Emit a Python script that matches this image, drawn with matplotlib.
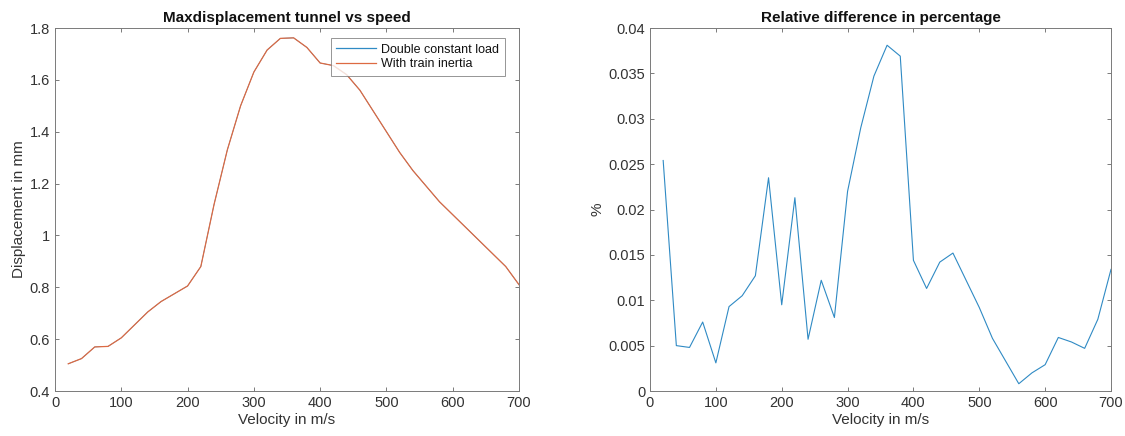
import numpy as np
import matplotlib
matplotlib.use('Agg')
import matplotlib.pyplot as plt

# velocities in m/s
velocity = list(range(20, 701, 20))

# max tunnel displacement in mm (both curves overlap in the picture)
disp_inertia = [0.505, 0.525, 0.570, 0.572, 0.605, 0.655, 0.705, 0.745, 0.775, 0.805,
                0.880, 1.120, 1.330, 1.500, 1.630, 1.715, 1.760, 1.762, 1.725, 1.665,
                1.655, 1.620, 1.560, 1.480, 1.400, 1.320, 1.250, 1.190, 1.130, 1.080,
                1.030, 0.980, 0.930, 0.880, 0.810]
disp_double = [0.505, 0.525, 0.570, 0.572, 0.605, 0.655, 0.705, 0.745, 0.775, 0.805,
               0.880, 1.120, 1.330, 1.500, 1.630, 1.715, 1.760, 1.762, 1.725, 1.665,
               1.655, 1.620, 1.560, 1.480, 1.400, 1.320, 1.250, 1.190, 1.130, 1.080,
               1.030, 0.980, 0.930, 0.880, 0.810]

# relative difference in %
rel_diff = [0.0254, 0.0050, 0.0048, 0.0076, 0.0031, 0.0093, 0.0105, 0.0127, 0.0235, 0.0095,
            0.0213, 0.0057, 0.0122, 0.0081, 0.0220, 0.0290, 0.0347, 0.0381, 0.0369, 0.0144,
            0.0113, 0.0142, 0.0152, 0.0122, 0.0092, 0.0058, 0.0033, 0.0008, 0.0020, 0.0029,
            0.0059, 0.0054, 0.0047, 0.0079, 0.0134]

blue = '#2f8ac4'
orange = '#dd6a42'
spinecol = '#7a7a7a'
textcol = '#333333'

plt.rcParams['font.family'] = ['Liberation Sans', 'DejaVu Sans']
plt.rcParams['font.size'] = 10

fig = plt.figure(figsize=(11.25, 4.36), dpi=100)
W, H = 1125.0, 436.0
ax1 = fig.add_axes([55/W, 1 - 391/H, (519-55)/W, (391-28)/H])
ax2 = fig.add_axes([650/W, 1 - 391/H, (1111-650)/W, (391-28)/H])

def style(ax):
  for s in ax.spines.values():
    s.set_color(spinecol)
    s.set_linewidth(0.7)
  ax.tick_params(direction='in', length=3, width=0.7, color=spinecol,
                 labelcolor=textcol, top=True, right=True, labelsize=10.5)
  ax.set_xlim(0, 700)
  ax.set_xticks(np.arange(0, 701, 100))
  ax.set_xlabel('Velocity in m/s', fontsize=11, color=textcol, labelpad=2)

# blue curve sits under the orange one, keep it thinner so it does not tint it
ax1.plot(velocity, disp_double, color=blue, lw=0.5, label='Double constant load')
ax1.plot(velocity, disp_inertia, color=orange, lw=0.9, label='With train inertia')
style(ax1)
ax1.set_ylim(0.4, 1.8)
ax1.set_yticks(np.arange(0.4, 1.81, 0.2))
ax1.set_yticklabels(['0.4', '0.6', '0.8', '1', '1.2', '1.4', '1.6', '1.8'])
ax1.set_ylabel('Displacement in mm', fontsize=11, color=textcol, labelpad=3)
ax1.set_title('Maxdisplacement tunnel vs speed', fontsize=11, fontweight='bold',
              color='#111111', pad=4)
leg = ax1.legend(loc='upper right', fontsize=9, frameon=True, fancybox=False,
                 bbox_to_anchor=(505/W, 1 - 38/H), bbox_transform=fig.transFigure,
                 borderaxespad=0, handlelength=3.2, handletextpad=0.4,
                 borderpad=0.45, labelspacing=0.2)
leg.get_frame().set_edgecolor(spinecol)
leg.get_frame().set_linewidth(0.7)
leg.get_lines()[0].set_linewidth(0.9)
for t in leg.get_texts():
  t.set_color('#111111')

ax2.plot(velocity, rel_diff, color=blue, lw=0.8)
style(ax2)
ax2.set_ylim(0, 0.04)
ax2.set_yticks(np.arange(0, 0.0401, 0.005))
ax2.set_yticklabels(['0', '0.005', '0.01', '0.015', '0.02', '0.025', '0.03', '0.035', '0.04'])
ax2.set_ylabel('%', fontsize=11, color=textcol, labelpad=3)
ax2.set_title('Relative difference in percentage', fontsize=11, fontweight='bold',
              color='#111111', pad=4)

plt.savefig('out.png', dpi=100)
plt.close()
